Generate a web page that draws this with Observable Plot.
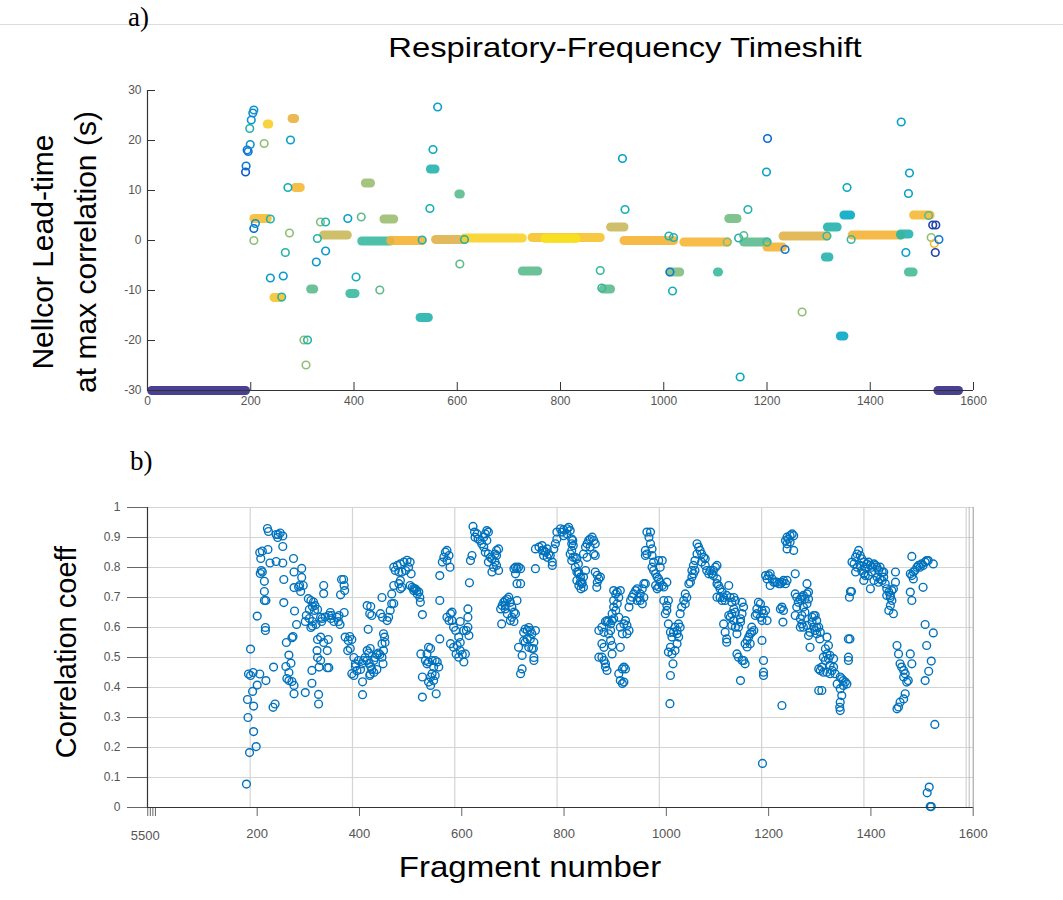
<!DOCTYPE html>
<html>
<head>
<meta charset="utf-8">
<script src="https://cdn.jsdelivr.net/npm/d3@7"></script>
<script src="https://cdn.jsdelivr.net/npm/@observablehq/plot@0.6"></script>
<style>
  html,body{margin:0;padding:0;background:#fff;}
  #wrap{position:relative;width:1063px;height:900px;background:#fff;overflow:hidden;font-family:"Liberation Sans",Arial,sans-serif;}
  .abs{position:absolute;white-space:nowrap;color:#000;}
  .panel{position:absolute;left:0;}
  .serif{font-family:"Liberation Serif","Times New Roman",serif;}
</style>
</head>
<body>
<div id="wrap">
  <div class="abs" style="left:0;top:24px;width:1063px;height:1px;background:#ddd"></div>
  <div class="abs serif" style="left:128px;top:2px;font-size:27px">a)</div>
  <div class="abs" style="left:625px;top:32px;transform:translateX(-50%) scaleX(1.17);font-size:28px">Respiratory-Frequency Timeshift</div>
  <div class="abs" style="left:64px;top:252px;transform:translate(-50%,-50%) rotate(-90deg);font-size:30px;line-height:43px;text-align:center">Nellcor Lead-time<br>at max correlation (s)</div>
  <div id="p1" class="panel" style="top:0"></div>
  <div class="abs serif" style="left:130px;top:446px;font-size:27px">b)</div>
  <div class="abs" style="left:66px;top:652px;transform:translate(-50%,-50%) rotate(-90deg);font-size:29px">Correlation coeff</div>
  <div class="abs" style="left:530px;top:850px;transform:translateX(-50%) scaleX(1.1);font-size:30px">Fragment number</div>
  <div id="p2" class="panel" style="top:440px"></div>
</div>
<script>
// ---------- Panel a: lead-time runs [start fragment, end fragment, lead-time s, correlation] ----------
const leadRuns = [
  [8,190,-30,0.0],[1531,1571,-30,0.0],
  [206,232,4.4,0.85],[245,258,-11.4,0.88],[341,387,1.1,0.72],[415,470,-0.1,0.5],
  [471,532,0,0.82],[558,614,0.2,0.76],[614,726,0.5,0.93],[745,877,0.6,0.88],[770,830,0.4,0.98],
  [923,1019,0,0.82],[1039,1123,-0.3,0.83],[1155,1200,-0.3,0.55],[1200,1230,-1.3,0.82],
  [1231,1316,0.9,0.76],[1365,1459,1.1,0.82],[1484,1516,5.1,0.84],
  [232,235,23.3,0.92],[280,285,24.4,0.78],[286,296,10.6,0.84],[422,432,11.5,0.64],
  [726,756,-6.1,0.55],[316,322,-9.7,0.55],[392,402,-10.6,0.5],[528,544,-15.4,0.45],
  [548,557,14.3,0.45],[458,477,4.3,0.64],[897,923,2.7,0.72],[1012,1031,-6.3,0.6],
  [1126,1142,4.4,0.58],[1313,1320,-3.3,0.45],[1317,1336,2.7,0.45],[1342,1349,-19.1,0.38],
  [1349,1362,5.1,0.38],[1474,1483,-6.3,0.52],[883,897,-9.7,0.55],[603,606,9.3,0.55],
  [1459,1475,1.3,0.45],[1104,1106,-6.3,0.5]
];
// ---------- Panel a: single points [fragment, lead-time s, correlation] ----------
const leadPoints = [
  [206,2.4,0.15],[206,0.0,0.62],[209,3.4,0.3],[238,4.3,0.45],[238,-7.5,0.32],[260,-11.3,0.45],
  [263,-7.1,0.32],[267,-2.4,0.45],[275,1.5,0.62],[303,-19.9,0.62],[310,-19.9,0.45],[307,-24.9,0.62],
  [327,-4.3,0.32],[329,0.4,0.45],[335,3.7,0.6],[345,3.7,0.45],[345,-2.1,0.32],[388,4.4,0.35],
  [404,-7.3,0.42],[414,4.7,0.55],[450,-9.9,0.55],[547,6.4,0.42],[605,-4.7,0.55],
  [877,-6.0,0.5],[880,-9.5,0.5],[190,13.7,0.1],[191,14.9,0.2],[193,18.1,0.2],[195,17.8,0.2],
  [199,19.2,0.3],[198,22.4,0.45],[201,24.1,0.3],[204,25.5,0.25],[206,26.1,0.3],[226,19.4,0.62],
  [277,20.1,0.35],[272,10.6,0.42],[562,26.7,0.35],[553,18.2,0.38],[920,16.4,0.35],[925,6.2,0.42],
  [1010,0.9,0.45],[1017,-10.1,0.42],[1145,0.5,0.45],[1155,1.0,0.55],[1163,6.2,0.45],[1235,-1.8,0.2],
  [1148,-27.3,0.38],[1199,13.7,0.35],[1201,20.4,0.15],[1268,-14.3,0.62],[1355,10.6,0.38],
  [1363,0.2,0.5],[1460,23.7,0.35],[1476,13.5,0.35],[1474,9.4,0.35],[1469,-2.4,0.35],
  [1513,5.0,0.55],[1521,3.1,0.05],[1527,3.1,0.05],[1518,0.6,0.62],[1524,-0.6,0.85],
  [1533,0.2,0.2],[1526,-2.4,0.05],[1012,-6.3,0.2],[1123,-0.3,0.6],[1019,0.6,0.45],
  [1316,0.9,0.5],[1200,-0.3,0.5],[532,0.1,0.45],[614,0.2,0.45],[1459,1.1,0.5]
];
const leadTicksY = [-30,-20,-10,0,10,20,30];
const fragTicks = [0,200,400,600,800,1000,1200,1400,1600];

// ---------- Panel b: [fragment, correlation coefficient] ----------
const corrPairs = [
  [179,.078],[185,.183],[198,.203],[193,.253],[182,.30],[181,.36],[193,.338],[191,.387],[200,.408],[217,.423],
  [183,.445],[187,.44],[192,.45],[205,.445],[187,.528],[200,.638],[216,.59],[216,.60],[214,.69],[217,.69],
  [214,.72],[214,.754],[206,.78],[208,.79],[210,.785],[205,.85],[210,.855],[207,.83],[221,.86],[225,.815],
  [237,.82],[250,.815],[220,.93],[222,.92],[237,.91],[241,.91],[245,.915],[250,.905],[240,.90],[250,.87],
  [271,.83],[252,.76],[252,.683],[272,.785],[272,.733],[287,.797],[287,.767],[281,.735],[285,.72],[290,.74],
  [283,.74],[273,.655],[277,.61],[268,.566],[270,.57],[257,.55],[262,.508],[266,.481],[256,.47],[262,.45],
  [258,.43],[262,.423],[268,.42],[272,.407],[272,.379],[232,.468],[231,.334],[235,.345],[294,.383],[307,.457],
  [307,.414],[320,.377],[320,.345],
  [300,.696],[305,.69],[310,.685],[313,.673],[308,.67],[302,.66],[312,.657],[318,.66],[296,.64],[302,.63],
  [308,.62],[294,.62],[305,.60],[308,.605],[315,.61],[330,.74],[330,.713],
  [324,.634],[326,.62],[324,.568],[318,.56],[317,.523],[318,.50],[324,.49],[321,.468],[337,.466],[340,.466],
  [337,.523],[339,.56],[330,.55],[327,.63],[333,.635],[340,.64],[344,.63],[350,.62],[356,.634],[360,.64],
  [346,.64],[343,.65],[359,.62],[362,.61],[370,.65],[363,.709],[365,.76],[369,.76],[370,.74],[371,.723],
  [372,.568],[378,.557],[385,.56],[377,.523],[381,.57],[382,.53],[389,.50],[392,.479],[398,.49],[392,.47],
  [385,.446],[389,.44],[395,.456],[402,.46],[405,.479],[411,.50],[418,.515],[421,.53],[415,.523],[408,.49],
  [406,.419],[406,.376],[417,.594],
  [415,.673],[422,.67],[420,.646],[424,.64],[441,.646],
  [415,.49],[419,.48],[422,.47],[428,.49],[431,.50],[434,.51],[437,.515],[440,.51],[434,.46],[428,.45],
  [421,.445],[420,.44],[424,.46],
  [444,.70],[445,.634],[447,.579],[449,.568],[444,.546],[447,.523],[444,.501],[446,.479],[450,.55],
  [454,.623],[457,.634],[460,.657],[463,.679],[467,.68],[463,.712],[467,.74],
  [467,.801],[474,.807],[480,.812],[487,.818],[493,.824],[499,.818],[496,.801],[490,.79],[483,.785],[477,.785],
  [470,.79],[501,.779],[480,.757],[483,.734],[480,.729],[477,.746],
  [499,.74],[503,.734],[506,.73],[509,.729],[512,.723],[516,.718],[518,.70],[519,.684],[523,.643],[513,.712],[506,.723],
  [523,.368],[535,.534],[539,.53],[532,.512],[529,.49],[532,.479],[535,.485],[542,.49],[545,.468],[542,.446],
  [539,.435],[535,.418],[539,.407],[545,.423],[548,.49],[552,.485],[555,.468],[548,.44],[550,.379],[523,.435],[520,.512],
  [557,.69],[557,.773],[562,.818],[565,.834],[568,.851],[571,.857],[575,.84],[571,.823],[577,.801],[557,.562],
  [571,.634],[578,.646],[581,.651],[575,.623],[581,.623],[584,.601],[588,.59],[578,.546],[584,.534],[591,.54],
  [597,.55],[594,.568],[597,.523],[589,.512],[594,.501],[601,.51],[604,.485],[607,.512],[614,.573],[612,.601],
  [612,.634],[612,.662],[609,.59],[604,.59],[597,.62],[615,.749],
  [617,.823],[620,.84],[622,.937],[625,.918],[630,.912],[626,.901],[632,.895],[636,.89],[639,.879],[643,.901],
  [646,.912],[649,.923],[652,.918],[649,.89],[643,.868],[646,.851],[652,.845],[656,.834],[659,.829],[665,.845],
  [668,.857],[672,.862],[668,.84],[665,.818],[668,.807],[662,.801],[659,.785],[672,.79],[652,.818],
  [676,.662],[679,.673],[682,.684],[685,.69],[689,.695],[692,.701],[695,.684],[698,.668],[702,.651],[698,.634],
  [695,.623],[689,.646],[685,.662],[678,.612],[702,.62],[705,.646],[708,.69],[685,.675],
  [702,.796],[705,.801],[708,.796],[711,.801],[715,.796],[705,.779],[708,.746],[715,.746],
  [711,.534],[718,.507],[715,.446],[718,.462],[721,.584],[724,.595],[728,.59],[731,.60],[734,.59],[737,.579],
  [734,.562],[728,.562],[721,.556],[724,.551],[731,.534],[737,.53],[741,.551],[744,.59],[741,.50],[741,.49],[740,.53],
  [744,.796],
  [744,.862],[751,.868],[757,.873],[760,.857],[764,.851],[767,.862],[770,.845],[773,.84],[767,.834],[760,.84],
  [757,.857],[777,.818],[777,.807],[780,.862],[783,.879],[786,.895],[786,.918],[793,.929],[799,.926],[806,.929],
  [809,.934],[812,.923],[806,.912],[799,.906],[815,.895],[815,.879],[796,.918],
  [818,.834],[825,.829],[828,.812],[828,.785],[832,.751],[833,.729],
  [817,.89],[818,.873],[815,.857],[812,.845],[822,.834],[815,.823],
  [822,.801],[825,.785],[829,.779],[832,.768],[835,.751],[829,.74],[838,.734],[835,.746],[842,.79],[838,.768],[825,.757],
  [838,.845],[842,.868],[845,.879],[848,.89],[851,.895],[855,.901],[858,.89],[861,.879],[851,.868],[858,.845],[845,.834],[861,.84],
  [861,.785],[865,.774],[868,.762],[871,.768],[865,.751],[864,.734],
  [868,.59],[874,.601],[878,.584],[881,.62],[884,.623],[887,.62],[891,.612],[894,.623],[891,.59],[887,.579],
  [891,.557],[894,.54],[894,.512],[874,.546],[878,.534],[874,.501],[868,.501],[878,.49],[881,.479],[884,.457],
  [881,.468],[897,.629],[894,.646],[897,.668],[897,.69],[901,.712],[897,.723],[904,.718],[910,.723],[907,.70],
  [904,.679],[901,.657],[907,.634],[910,.601],[914,.579],[917,.612],[923,.607],[927,.59],[923,.579],[920,.623],[910,.534],
  [907,.446],[914,.462],[917,.468],[920,.462],[910,.423],[914,.413],[917,.418],
  [927,.668],[930,.69],[933,.701],[936,.712],[940,.723],[943,.729],[946,.70],[949,.69],[953,.679],[956,.70],
  [953,.729],[949,.712],[956,.746],[959,.746],[943,.69],
  [959,.84],[962,.845],[959,.857],[962,.918],[969,.918],[966,.901],[969,.879],[972,.862],[972,.84],[975,.818],
  [972,.801],[975,.79],[979,.779],[982,.768],[985,.762],[988,.751],[992,.74],[985,.735],[979,.74],[982,.729],
  [995,.735],[992,.823],[985,.823],[988,.801],[1001,.751],
  [995,.69],[1001,.673],[1001,.657],[1004,.69],[998,.646],[1004,.612],[1008,.584],[1011,.568],[1008,.534],[1004,.518],
  [1011,.512],[1017,.523],[1021,.546],[1024,.568],[1021,.59],[1027,.601],[1017,.601],[1024,.612],[1021,.579],
  [1013,.479],[1008,.44],[1007,.346],[1014,.584],
  [1027,.646],[1030,.668],[1034,.69],[1037,.679],[1040,.70],[1037,.712],[1044,.746],[1047,.751],[1050,.768],[1053,.779],
  [1056,.79],[1050,.79],[1053,.807],[1056,.823],[1060,.845],[1063,.868],[1060,.879],[1066,.857],[1069,.845],[1073,.834],
  [1076,.807],[1079,.79],[1083,.779],[1076,.829],[1069,.818],[1086,.79],[1089,.779],[1092,.79],[1096,.801],[1099,.807],
  [1092,.773],[1099,.762],
  [1099,.746],[1102,.74],[1105,.729],[1109,.718],[1099,.701],[1105,.70],[1109,.69],[1112,.70],[1115,.69],[1118,.707],
  [1122,.74],[1125,.70],[1132,.70],[1128,.684],[1135,.69],
  [1112,.612],[1115,.584],[1118,.562],[1118,.551],[1122,.64],[1125,.634],[1128,.646],[1132,.662],[1135,.651],[1132,.623],
  [1128,.607],[1135,.601],[1138,.579],[1141,.601],[1145,.629],[1148,.646],[1151,.668],[1148,.684],[1145,.618],[1138,.512],
  [1141,.501],[1148,.49],[1151,.49],[1154,.479],[1145,.423],
  [1154,.546],[1158,.557],[1161,.568],[1164,.579],[1167,.584],[1171,.59],[1167,.601],[1158,.535],[1164,.546],[1174,.64],
  [1177,.662],[1180,.684],[1184,.679],[1187,.657],[1190,.646],[1177,.646],[1187,.557],[1190,.49],[1190,.451],[1190,.44],
  [1184,.634],[1187,.623],[1197,.623],[1194,.657],[1188,.147],[1226,.34],
  [1194,.773],[1197,.762],[1200,.773],[1203,.779],[1207,.762],[1210,.751],[1213,.751],[1216,.751],[1220,.746],[1223,.746],
  [1226,.751],[1229,.757],[1233,.746],[1236,.757],[1203,.74],
  [1226,.668],[1223,.662],[1229,.657],[1228,.618],
  [1233,.89],[1236,.901],[1239,.895],[1242,.906],[1246,.912],[1249,.906],[1242,.885],[1236,.879],[1236,.862],[1249,.857],
  [1252,.779],[1275,.746],
  [1252,.712],[1255,.701],[1258,.684],[1255,.668],[1252,.64],[1262,.695],[1265,.701],[1268,.707],[1271,.695],[1275,.712],
  [1278,.718],[1278,.695],[1275,.679],[1268,.668],[1271,.651],[1265,.64],[1262,.629],[1265,.612],[1262,.601],[1268,.601],
  [1275,.607],[1285,.634],[1288,.64],[1285,.618],[1288,.601],[1281,.584],[1278,.573],[1281,.534],[1291,.64],[1294,.623],
  [1298,.601],[1291,.59],[1294,.579],[1301,.584],[1300,.562],[1294,.60],
  [1314,.568],[1317,.54],[1311,.529],[1314,.512],[1307,.501],[1311,.49],[1317,.496],[1320,.507],[1327,.496],[1320,.474],
  [1327,.468],[1330,.446],[1324,.457],[1304,.468],[1298,.462],[1301,.457],[1307,.451],[1314,.451],[1320,.446],[1298,.39],[1304,.39],
  [1334,.412],[1340,.435],[1343,.429],[1346,.423],[1350,.418],[1353,.412],[1346,.407],[1340,.396],[1343,.373],[1340,.351],
  [1339,.334],[1340,.323],[1356,.562],[1359,.562],[1356,.501],[1356,.49],
  [1358,.701],[1360,.72],[1362,.72],
  [1363,.818],[1367,.812],[1370,.834],[1373,.845],[1376,.857],[1379,.84],[1382,.829],[1386,.818],[1379,.807],[1373,.801],
  [1370,.785],[1382,.79],[1389,.801],[1392,.812],[1395,.818],[1399,.807],[1402,.801],[1406,.812],[1409,.807],[1412,.801],
  [1415,.79],[1418,.801],[1422,.785],[1425,.785],[1402,.785],[1395,.773],[1389,.773],[1386,.757],[1399,.729],[1406,.757],
  [1412,.768],[1415,.751],[1418,.762],[1422,.757],[1425,.768],[1386,.78],
  [1428,.746],[1431,.729],[1435,.718],[1438,.707],[1441,.723],[1444,.729],[1448,.785],[1448,.751],[1441,.69],[1438,.673],
  [1435,.657],[1444,.646],[1438,.70],[1431,.707],
  [1451,.54],[1454,.512],[1457,.479],[1460,.468],[1464,.457],[1467,.446],[1464,.435],[1470,.418],[1473,.423],[1467,.379],
  [1464,.362],[1457,.351],[1451,.329],[1454,.335],[1477,.512],[1480,.479],
  [1477,.779],[1480,.773],[1483,.785],[1486,.79],[1490,.801],[1493,.807],[1496,.801],[1499,.812],[1502,.807],[1506,.818],
  [1509,.823],[1512,.823],[1522,.812],[1480,.837],[1483,.762],[1477,.718],[1480,.69],[1502,.734],
  [1506,.61],[1522,.582],[1509,.54],[1518,.488],[1513,.454],[1506,.423],
  [1510,.049],[1514,.068],[1516,.003],[1518,.003],[1525,.277]
];
const corrTicksY = [0,0.1,0.2,0.3,0.4,0.5,0.6,0.7,0.8,0.9,1];
const fragTicksB = [200,400,600,800,1000,1200,1400,1600];
const glitchTicks = [-14,-9,-4,1];

// parula-like colour map
const parulaDomain = [0,0.125,0.25,0.375,0.5,0.625,0.72,0.8,0.9,1];
const parulaRange = ["#352a87","#0363e1","#1485d4","#06a7c6","#38b99e","#92bf73","#c9b85a","#f4ae37","#f7c82c","#f6e81a"];

const runs = leadRuns.map(([a,b,y,c]) => ({a,b,y,c}));
const pts = leadPoints.map(([x,y,c]) => ({x,y,c}));
const corr = corrPairs.map(([x,y]) => ({x,y}));

const axisColor = "#333";
const labelColor = "#555";
const plain = d => String(d);

const p1 = Plot.plot({
  width: 1063, height: 420,
  marginLeft: 147, marginRight: 90, marginTop: 90, marginBottom: 30,
  style: {fontFamily: "'Liberation Sans', Arial, sans-serif", fontSize: "12px", background: "transparent", overflow: "visible"},
  x: {domain: [0,1600], ticks: [], label: null},
  y: {domain: [-30,30], ticks: [], label: null},
  color: {type: "linear", domain: parulaDomain, range: parulaRange},
  marks: [
    Plot.link(runs, {x1: "a", x2: "b", y1: "y", y2: "y", stroke: "c", strokeWidth: 9, strokeLinecap: "round", strokeOpacity: 0.9}),
    Plot.dot(pts, {x: "x", y: "y", r: 3.8, stroke: "c", strokeWidth: 1.6, fill: "none"}),
    Plot.axisY({ticks: leadTicksY, tickSize: -8, tickPadding: 14, stroke: axisColor, color: labelColor, label: null, fontSize: 12, tickFormat: plain}),
    Plot.axisX({ticks: fragTicks, tickSize: -8, tickPadding: 14, stroke: axisColor, color: labelColor, label: null, fontSize: 12, tickFormat: plain}),
    Plot.ruleY([-30], {stroke: axisColor, strokeWidth: 1.2}),
    Plot.ruleX([0], {stroke: axisColor, strokeWidth: 1.2})
  ]
});
document.getElementById("p1").appendChild(p1);

const p2 = Plot.plot({
  width: 1063, height: 420,
  marginLeft: 147, marginRight: 90.3, marginTop: 67, marginBottom: 53,
  style: {fontFamily: "'Liberation Sans', Arial, sans-serif", fontSize: "12px", background: "transparent", overflow: "visible"},
  x: {domain: [-14.5,1600], ticks: [], label: null},
  y: {domain: [0,1], ticks: [], label: null},
  marks: [
    Plot.gridY(corrTicksY, {stroke: "#d4d4d4", strokeOpacity: 1, strokeWidth: 1.2}),
    Plot.gridX(fragTicksB, {stroke: "#d4d4d4", strokeOpacity: 1, strokeWidth: 1.2, dx: -7}),
    Plot.ruleX([1600], {stroke: "#bbb", dx: -4}),
    Plot.ruleX([1600], {stroke: "#999", strokeWidth: 1}),
    Plot.dot(corr, {x: "x", y: "y", r: 3.9, stroke: "#0072bd", strokeWidth: 1.4, fill: "none"}),
    Plot.axisY({ticks: corrTicksY, tickSize: 20, tickPadding: 7, stroke: "#666", color: labelColor, label: null, fontSize: 12, tickFormat: plain}),
    Plot.axisX({ticks: fragTicksB, tickSize: 9, tickPadding: 12, stroke: "#666", color: labelColor, label: null, fontSize: 13, tickFormat: plain}),
    Plot.axisX({ticks: glitchTicks, tickSize: 9, tickFormat: () => "", stroke: "#666", label: null}),
    Plot.text(["5500"], {x: -19, y: 0, dy: 28, fill: labelColor, fontSize: 13}),
    Plot.ruleY([0], {stroke: axisColor, strokeWidth: 1.2}),
    Plot.ruleX([-14.5], {stroke: axisColor, strokeWidth: 1.2})
  ]
});
document.getElementById("p2").appendChild(p2);
</script>
</body>
</html>
